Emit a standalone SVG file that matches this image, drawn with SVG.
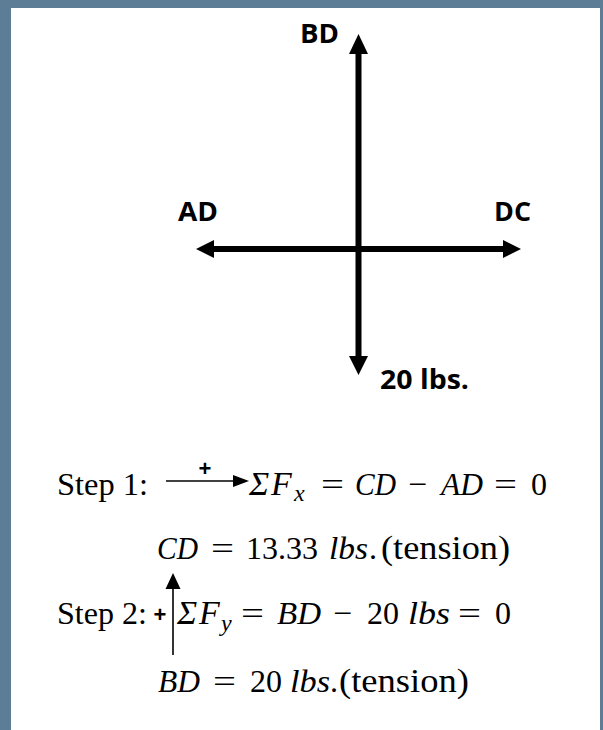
<svg xmlns="http://www.w3.org/2000/svg" width="603" height="730" viewBox="0 0 603 730">
<style>
.lbl{font-family:"Open Sans","Liberation Sans",sans-serif;font-weight:700;font-size:26px;fill:#000}
.rm{font-family:"Liberation Serif","Times New Roman",serif;font-size:32px;fill:#000}
.tn{font-family:"Liberation Serif","Times New Roman",serif;font-size:34px;fill:#000}
.it{font-family:"Liberation Serif","Times New Roman",serif;font-style:italic;font-size:32px;fill:#000}
.big{font-family:"Liberation Serif","Times New Roman",serif;font-style:italic;font-size:34px;fill:#000}
.sub{font-family:"Liberation Serif","Times New Roman",serif;font-style:italic;font-size:24px;fill:#000}
.plus{font-family:"Liberation Sans",sans-serif;font-weight:700;font-size:22px;fill:#000}
.fat{stroke:#000;stroke-width:6;fill:none}
.thin{stroke:#000;stroke-width:1.6;fill:none}
</style>
<rect x="0" y="0" width="603" height="730" fill="#5D7D96"/>
<rect x="11" y="8" width="589" height="722" fill="#FFFFFF"/>

<g id="connectors">
  <line class="fat" x1="358.5" y1="52" x2="358.5" y2="358"/>
  <polygon points="349,54 358.5,34 368,54" fill="#000"/>
  <polygon points="349,356 358.5,375 368,356" fill="#000"/>
  <line class="fat" x1="212" y1="249" x2="505" y2="249"/>
  <polygon points="214,240 196,249 214,258" fill="#000"/>
  <polygon points="503,240 521,249 503,258" fill="#000"/>
</g>

<g id="node-BD"><text class="lbl" x="300" y="43" textLength="39" lengthAdjust="spacingAndGlyphs">BD</text></g>
<g id="node-AD"><text class="lbl" x="178" y="221" textLength="40" lengthAdjust="spacingAndGlyphs">AD</text></g>
<g id="node-DC"><text class="lbl" x="494" y="221" textLength="37" lengthAdjust="spacingAndGlyphs">DC</text></g>
<g id="node-20lbs"><text class="lbl" x="380" y="389" textLength="89" lengthAdjust="spacingAndGlyphs">20 lbs.</text></g>

<g id="step1">
  <text class="rm" x="57" y="495" textLength="91" lengthAdjust="spacingAndGlyphs">Step 1:</text>
  <line class="thin" x1="166" y1="481" x2="236" y2="481"/>
  <polygon points="233,475 249,481 233,487" fill="#000"/>
  <text class="plus" x="205" y="476" text-anchor="middle">+</text>
  <text class="big" x="249" y="495">Σ</text>
  <text class="big" x="271" y="495">F</text>
  <text class="sub" x="294" y="501">x</text>
  <text class="rm" x="321" y="495" textLength="23" lengthAdjust="spacingAndGlyphs">=</text>
  <text class="it" x="355" y="495" textLength="41" lengthAdjust="spacingAndGlyphs">CD</text>
  <text class="rm" x="408" y="495" textLength="19" lengthAdjust="spacingAndGlyphs">−</text>
  <text class="it" x="441" y="495" textLength="42" lengthAdjust="spacingAndGlyphs">AD</text>
  <text class="rm" x="494" y="495" textLength="23" lengthAdjust="spacingAndGlyphs">=</text>
  <text class="rm" x="531" y="495">0</text>
</g>

<g id="result1">
  <text class="it" x="157" y="559" textLength="41" lengthAdjust="spacingAndGlyphs">CD</text>
  <text class="rm" x="211" y="559" textLength="23" lengthAdjust="spacingAndGlyphs">=</text>
  <text class="rm" x="246" y="559">13.33</text>
  <text class="it" x="329" y="559" textLength="39" lengthAdjust="spacingAndGlyphs">lbs</text>
  <text class="rm" x="369" y="559">.</text>
  <text class="tn" x="381" y="559" textLength="129" lengthAdjust="spacingAndGlyphs">(tension)</text>
</g>

<g id="step2">
  <text class="rm" x="57" y="624" textLength="90" lengthAdjust="spacingAndGlyphs">Step 2:</text>
  <text class="plus" x="160" y="622" text-anchor="middle">+</text>
  <line class="thin" x1="173" y1="655" x2="173" y2="586"/>
  <polygon points="165.5,589 173,573 180.5,589" fill="#000"/>
  <text class="big" x="177" y="624">Σ</text>
  <text class="big" x="199" y="624">F</text>
  <text class="sub" x="221" y="631">y</text>
  <text class="rm" x="241" y="624" textLength="23" lengthAdjust="spacingAndGlyphs">=</text>
  <text class="it" x="277" y="624" textLength="44" lengthAdjust="spacingAndGlyphs">BD</text>
  <text class="rm" x="333" y="624" textLength="19" lengthAdjust="spacingAndGlyphs">−</text>
  <text class="rm" x="367" y="624">20</text>
  <text class="it" x="408" y="624" textLength="42" lengthAdjust="spacingAndGlyphs">lbs</text>
  <text class="rm" x="458" y="624" textLength="23" lengthAdjust="spacingAndGlyphs">=</text>
  <text class="rm" x="495" y="624">0</text>
</g>

<g id="result2">
  <text class="it" x="158" y="692" textLength="42" lengthAdjust="spacingAndGlyphs">BD</text>
  <text class="rm" x="213" y="692" textLength="23" lengthAdjust="spacingAndGlyphs">=</text>
  <text class="rm" x="250" y="692">20</text>
  <text class="it" x="290" y="692" textLength="40" lengthAdjust="spacingAndGlyphs">lbs</text>
  <text class="rm" x="330" y="692">.</text>
  <text class="tn" x="339" y="692" textLength="130" lengthAdjust="spacingAndGlyphs">(tension)</text>
</g>
</svg>
